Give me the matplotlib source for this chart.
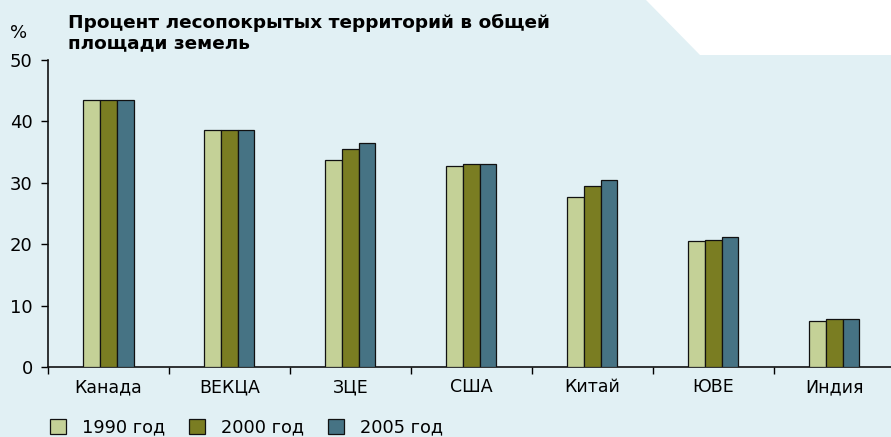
import matplotlib
matplotlib.use("Agg")
import matplotlib.pyplot as plt
from matplotlib.patches import Polygon
import numpy as np

categories = ["Канада", "ВЕКЦА", "ЗЦЕ", "США", "Китай", "ЮВЕ", "Индия"]
series_names = ["1990 год", "2000 год", "2005 год"]
v1990 = [43.5, 38.6, 33.7, 32.7, 27.7, 20.5, 7.5]
v2000 = [43.5, 38.6, 35.5, 33.1, 29.5, 20.7, 7.8]
v2005 = [43.5, 38.6, 36.5, 33.1, 30.4, 21.1, 7.8]
colors = ["#c4d197", "#7a7d22", "#467384"]
yticks = [0, 10, 20, 30, 40, 50]

bg = "#e1f0f4"
W, H = 891, 437
fig = plt.figure(figsize=(W / 100, H / 100), dpi=100, facecolor=bg)
plt.rcParams['font.family'] = ['DejaVu Sans']

# white corner shape
fig.patches.append(Polygon([(646 / W, 1), (700 / W, 1 - 55 / H), (1, 1 - 55 / H), (1, 1)],
                           closed=True, transform=fig.transFigure, facecolor="white",
                           edgecolor="none", zorder=0))

ax = fig.add_axes([48 / W, 1 - 367 / H, (891 - 48) / W, (367 - 60) / H])
ax.set_facecolor("none")
x = np.arange(len(categories))
bw = 0.138
for i, (vals, c) in enumerate(zip([v1990, v2000, v2005], colors)):
    ax.bar(x + (i - 1) * bw, vals, width=bw, color=c, edgecolor="#111111", linewidth=0.9,
           label=series_names[i], zorder=3)

ax.set_xlim(-0.5, 6.47)
ax.set_ylim(0, 50)
ax.set_yticks(yticks)
ax.set_yticklabels([str(t) for t in yticks], fontsize=13)
ax.set_xticks(np.arange(-0.5, 6.5, 1.0))
ax.set_xticklabels([])
ax.set_xticks(x, minor=True)
ax.set_xticklabels(categories, minor=True, fontsize=12.5)
ax.tick_params(axis="x", which="minor", length=0, pad=8)
ax.tick_params(axis="x", which="major", length=5, direction="out", width=1)
ax.tick_params(axis="y", length=5, direction="out", width=1, pad=6)
for s in ["top", "right"]:
    ax.spines[s].set_visible(False)
for s in ["left", "bottom"]:
    ax.spines[s].set_linewidth(1.2)
    ax.spines[s].set_color("#111111")

fig.text(68 / W, 1 - 33 / H, "Процент лесопокрытых территорий в общей\nплощади земель",
         fontsize=13.3, fontweight="bold", va="center", ha="left", linespacing=1.15)
fig.text(10 / W, 1 - 33 / H, "%", fontsize=13, va="center", ha="left")

handles, labels = ax.get_legend_handles_labels()
fig.legend(handles, labels, loc="lower left", bbox_to_anchor=(34 / W, -0.035), ncol=3,
           frameon=False, fontsize=12.8, handlelength=0.9, handleheight=0.9,
           handletextpad=0.9, columnspacing=1.35)

fig.savefig("out.png", dpi=100, facecolor=bg)
